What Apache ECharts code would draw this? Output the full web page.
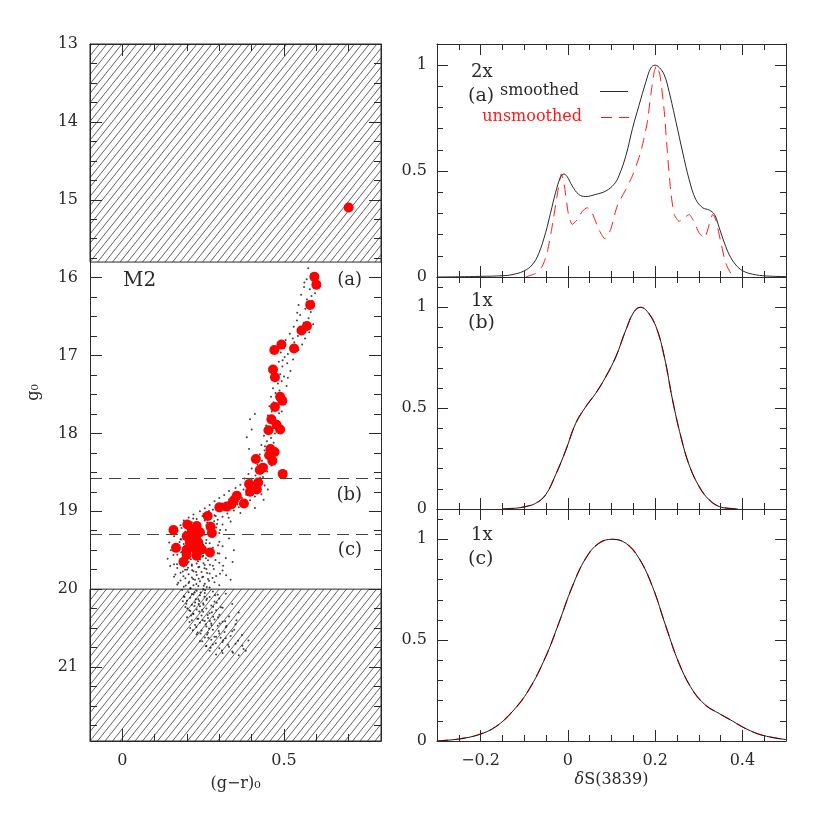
<!DOCTYPE html>
<html><head><meta charset="utf-8">
<script src="https://cdn.jsdelivr.net/npm/echarts@6/dist/echarts.min.js"></script>
<style>html,body{margin:0;padding:0;background:#fff}#c{width:830px;height:830px}</style>
</head><body><div id="c"></div>
<script>
// ---------------- DATA ----------------
// Left panel: colour-magnitude diagram of M2
const hatchBands = [[13, 15.8], [20, 22]];           // excluded magnitude ranges (g0)
const bandLimits = [18.58, 19.29];                   // dashed boundaries between (a),(b),(c)
const redStars = [
  [0.70,15.10],[0.594,15.99],[0.600,16.09],[0.581,16.35],[0.571,16.62],[0.554,16.68],[0.492,16.86],
  [0.531,16.91],[0.470,16.93],[0.466,17.18],[0.472,17.28],[0.488,17.53],[0.495,17.58],[0.472,17.66],
  [0.461,17.82],[0.477,17.89],[0.488,17.95],[0.452,17.96],[0.458,18.20],[0.471,18.24],[0.454,18.28],
  [0.464,18.35],[0.413,18.33],[0.435,18.44],[0.425,18.47],[0.496,18.52],[0.392,18.65],[0.420,18.63],
  [0.416,18.72],[0.395,18.75],[0.354,18.80],[0.345,18.86],[0.376,18.90],[0.338,18.91],[0.323,18.94],
  [0.300,18.95],[0.264,19.06],[0.201,19.17],[0.230,19.19],[0.273,19.20],[0.158,19.24],[0.215,19.24],
  [0.240,19.27],[0.277,19.28],[0.199,19.32],[0.225,19.31],[0.209,19.40],[0.235,19.40],[0.166,19.47],
  [0.199,19.49],[0.225,19.48],[0.246,19.49],[0.271,19.53],[0.199,19.56],[0.230,19.57],[0.189,19.65]
];
const rgbDots = [
  [0.575,15.88],[0.585,15.95],[0.57,16.02],[0.592,16.05],[0.562,16.12],[0.58,16.15],[0.596,16.2],[0.553,16.22],
  [0.571,16.28],[0.588,16.3],[0.545,16.35],[0.566,16.4],[0.583,16.44],[0.55,16.48],[0.576,16.52],[0.54,16.55],
  [0.561,16.58],[0.59,16.6],[0.53,16.63],[0.552,16.66],[0.578,16.7],[0.518,16.72],[0.543,16.75],[0.565,16.78],
  [0.505,16.8],[0.532,16.83],[0.556,16.86],[0.498,16.88],[0.52,16.9],[0.545,16.93],[0.49,16.96],[0.512,16.98],
  [0.502,17.02],[0.528,17.05],[0.484,17.08],[0.51,17.1],[0.495,17.14],[0.476,17.17],[0.52,17.2],[0.488,17.24],
  [0.5,17.27],[0.47,17.3],[0.493,17.33],[0.481,17.36],[0.508,17.39],[0.466,17.42],[0.486,17.45],[0.474,17.48],
  [0.497,17.5],[0.46,17.53],[0.482,17.56],[0.468,17.6],[0.49,17.62],[0.455,17.65],[0.476,17.68],[0.462,17.72],
  [0.485,17.74],[0.45,17.77],[0.47,17.8],[0.41,17.75],[0.395,17.82],[0.458,17.84],[0.478,17.87],[0.445,17.9],
  [0.466,17.93],[0.4,17.95],[0.452,17.97],[0.472,18.0],[0.438,18.03],[0.46,18.06],[0.385,18.05],[0.447,18.1],
  [0.468,18.12],[0.43,18.15],[0.452,18.18],[0.392,18.2],[0.44,18.22],[0.462,18.25],[0.425,18.27],[0.445,18.3],
  [0.41,18.32],[0.432,18.35],[0.455,18.37],[0.418,18.4],[0.44,18.42],[0.4,18.45],[0.425,18.47],[0.448,18.49],
  [0.39,18.52],[0.412,18.54],[0.435,18.56],[0.378,18.58],[0.4,18.6],
  [0.563,16.061],[0.585,16.237],[0.541,16.452],[0.569,16.612],[0.527,16.782],[0.496,17.061],[0.512,17.284],
  [0.479,17.512],[0.493,17.718],[0.456,17.931],[0.441,18.164],[0.461,18.413],[0.426,18.571]
];
const sgbDots = [
  [0.42,18.62],[0.385,18.64],[0.365,18.66],[0.44,18.67],[0.35,18.7],[0.405,18.7],[0.375,18.72],[0.33,18.74],
  [0.425,18.74],[0.36,18.76],[0.39,18.78],[0.315,18.79],[0.345,18.8],[0.41,18.81],[0.3,18.83],[0.37,18.83],
  [0.33,18.85],[0.395,18.86],[0.285,18.87],[0.355,18.88],[0.31,18.9],[0.38,18.9],[0.27,18.92],[0.34,18.92],
  [0.295,18.94],[0.36,18.95],[0.255,18.96],[0.32,18.97],[0.28,18.98],[0.345,18.99],[0.43,18.78],[0.45,18.72],
  [0.24,19.0],[0.3,19.0],[0.265,19.02],[0.325,19.03],[0.22,19.04],[0.285,19.05],[0.248,19.06],[0.31,19.07],
  [0.205,19.08],[0.27,19.08],[0.23,19.1],[0.295,19.11],[0.19,19.12],[0.255,19.12],[0.335,19.13],[0.215,19.14],
  [0.275,19.15],[0.24,19.16],[0.31,19.17],[0.18,19.18],[0.26,19.18],[0.22,19.2],[0.29,19.21],[0.2,19.22],
  [0.245,19.23],[0.32,19.24],[0.17,19.25],[0.268,19.25],[0.23,19.27],[0.3,19.28],[0.19,19.29],[0.255,19.3],
  [0.262,19.143],[0.231,19.226],[0.289,19.062],[0.207,19.171],[0.318,18.982],[0.246,19.285],[0.273,19.198],
  [0.195,19.263],[0.336,18.961],[0.284,19.127],[0.219,19.093],[0.302,19.241],[0.251,19.036],[0.183,19.214],
  [0.356,18.913],[0.268,18.997],[0.226,19.281],[0.293,19.164],[0.371,18.871],[0.329,19.082],[0.398,18.692],
  [0.437,18.853],[0.41,18.958],[0.365,19.021],[0.383,18.787]
];
const toDots = [
  [0.16,19.32],[0.215,19.32],[0.28,19.33],[0.24,19.34],[0.33,19.35],[0.18,19.36],[0.26,19.37],[0.2,19.38],
  [0.3,19.39],[0.145,19.4],[0.23,19.4],[0.27,19.41],[0.19,19.42],[0.25,19.43],[0.215,19.44],[0.31,19.45],
  [0.165,19.46],[0.24,19.46],[0.28,19.47],[0.2,19.48],[0.225,19.49],[0.345,19.5],[0.15,19.5],[0.26,19.51],
  [0.185,19.52],[0.235,19.53],[0.295,19.54],[0.21,19.55],[0.17,19.56],[0.25,19.57],[0.275,19.58],[0.195,19.59],
  [0.22,19.6],[0.32,19.6],[0.14,19.61],[0.24,19.62],[0.265,19.63],[0.18,19.64],[0.205,19.65],[0.3,19.66],
  [0.23,19.67],[0.16,19.68],[0.255,19.69],[0.215,19.7],[0.28,19.7],[0.19,19.71],[0.235,19.72],[0.17,19.73],
  [0.26,19.74],[0.2,19.75],[0.31,19.76],[0.22,19.77],[0.245,19.78],[0.18,19.79],[0.27,19.8],[0.205,19.81],
  [0.23,19.82],[0.29,19.83],[0.16,19.84],[0.25,19.84],[0.215,19.85],[0.195,19.86],[0.265,19.87],[0.335,19.88],
  [0.225,19.88],[0.18,19.89],[0.24,19.9],[0.285,19.91],[0.205,19.92],[0.255,19.93],[0.17,19.94],[0.22,19.95],
  [0.3,19.95],[0.235,19.96],[0.19,19.97],[0.27,19.98],[0.21,19.99],[0.25,20.0],
  [0.212,19.615],[0.187,19.772],[0.243,19.548],[0.268,19.893],[0.176,19.455],[0.229,19.934],[0.251,19.667],
  [0.198,19.338],[0.283,19.742],[0.221,19.489],[0.164,19.812],[0.238,19.712],[0.207,19.904],[0.259,19.412],
  [0.192,19.637],[0.274,19.563],[0.216,19.758],[0.182,19.529],[0.247,19.846],[0.302,19.803],[0.233,19.381],
  [0.169,19.681],[0.261,19.973],[0.209,19.451],[0.288,19.627],[0.226,19.583],[0.196,19.952],[0.254,19.731],
  [0.177,19.396],[0.312,19.701],[0.241,19.476],[0.219,19.869],[0.186,19.598],[0.266,19.512],[0.203,19.724],
  [0.234,19.641],[0.158,19.563],[0.279,19.857],[0.247,19.302],[0.211,19.988],[0.296,19.436],[0.189,19.836],
  [0.258,19.604],[0.228,19.781],[0.173,19.917],[0.238,19.425],[0.321,19.823],[0.205,19.522],[0.271,19.687],
  [0.194,19.751],[0.252,19.958],[0.183,19.362],[0.218,19.413],[0.262,19.792],[0.3,19.541],[0.236,19.867],
  [0.148,19.702],[0.341,19.653],[0.215,19.683],[0.248,19.584]
];
const msDots = [
  [0.185,20.01],[0.23,20.02],[0.28,20.03],[0.205,20.04],[0.255,20.05],[0.32,20.06],[0.22,20.07],[0.24,20.08],
  [0.19,20.09],[0.27,20.1],[0.21,20.11],[0.3,20.12],[0.235,20.13],[0.26,20.14],[0.2,20.15],[0.285,20.16],
  [0.225,20.17],[0.25,20.18],[0.34,20.19],[0.215,20.2],[0.275,20.21],[0.24,20.22],[0.195,20.23],[0.31,20.24],
  [0.26,20.25],[0.23,20.26],[0.29,20.27],[0.21,20.28],[0.25,20.29],[0.36,20.3],[0.27,20.31],[0.22,20.32],
  [0.3,20.33],[0.245,20.34],[0.33,20.35],[0.2,20.36],[0.265,20.37],[0.235,20.38],[0.285,20.39],[0.215,20.4],
  [0.255,20.41],[0.31,20.42],[0.24,20.43],[0.275,20.44],[0.35,20.45],[0.225,20.46],[0.295,20.47],[0.26,20.48],
  [0.32,20.49],[0.21,20.5],[0.28,20.52],[0.245,20.53],[0.34,20.54],[0.265,20.56],[0.3,20.57],[0.23,20.58],
  [0.37,20.59],[0.29,20.61],[0.255,20.62],[0.32,20.63],[0.275,20.65],[0.39,20.66],[0.24,20.67],[0.31,20.68],
  [0.35,20.7],[0.28,20.71],[0.26,20.73],[0.33,20.74],[0.3,20.76],[0.375,20.77],[0.27,20.79],[0.34,20.8],
  [0.31,20.82],[0.29,20.84],[0.36,20.85],
  [0.224,20.043],[0.262,20.121],[0.198,20.187],[0.247,20.264],[0.287,20.078],[0.213,20.338],[0.271,20.409],
  [0.238,20.152],[0.305,20.231],[0.229,20.486],[0.256,20.013],[0.192,20.102],[0.281,20.353],[0.242,20.571],
  [0.318,20.412],[0.266,20.625],[0.207,20.271],[0.298,20.538],[0.251,20.199],[0.335,20.601],[0.232,20.381],
  [0.277,20.297],[0.215,20.061],[0.346,20.522],[0.289,20.694],[0.258,20.452],[0.223,20.218],[0.312,20.655],
  [0.264,20.332],[0.242,20.043],[0.301,20.441],[0.187,20.154],[0.273,20.752],[0.327,20.713],[0.249,20.398],
  [0.219,20.317],[0.292,20.174],[0.358,20.664],[0.233,20.556],[0.308,20.788],[0.268,20.504],[0.201,20.247],
  [0.285,20.612],[0.238,20.286],[0.322,20.472],[0.254,20.097],[0.371,20.728],[0.296,20.362],[0.227,20.129],
  [0.342,20.816],[0.262,20.583],[0.281,20.227],[0.316,20.549],[0.208,20.423],[0.247,20.668],[0.295,20.071],
  [0.353,20.398],[0.276,20.463],[0.236,20.192],[0.304,20.623],[0.382,20.792],[0.259,20.734],[0.218,20.529]
];
// Right panels: normalised distributions of deltaS(3839)
const smoothedA = [[-0.3,0],[-0.25,0.001],[-0.2,0.003],[-0.15,0.006],[-0.128,0.011],[-0.101,0.028],[-0.082,0.057],
  [-0.067,0.11],[-0.051,0.21],[-0.04,0.30],[-0.028,0.40],[-0.017,0.47],[-0.009,0.486],[-0.002,0.475],[0.01,0.43],
  [0.025,0.39],[0.041,0.38],[0.064,0.39],[0.087,0.406],[0.106,0.438],[0.117,0.478],[0.133,0.573],[0.148,0.70],
  [0.163,0.81],[0.179,0.922],[0.19,0.986],[0.2,1.0],[0.209,0.99],[0.221,0.954],[0.232,0.875],[0.248,0.73],
  [0.263,0.59],[0.278,0.46],[0.293,0.367],[0.309,0.327],[0.324,0.316],[0.336,0.295],[0.347,0.232],[0.359,0.16],
  [0.37,0.105],[0.385,0.057],[0.401,0.029],[0.424,0.013],[0.454,0.005],[0.5,0.002]];
const unsmoothedA = [[-0.097,0],[-0.074,0.017],[-0.059,0.05],[-0.048,0.11],[-0.036,0.24],[-0.025,0.38],
  [-0.015,0.486],[-0.009,0.446],[0.001,0.30],[0.010,0.248],[0.021,0.27],[0.033,0.31],[0.044,0.327],[0.056,0.30],
  [0.071,0.224],[0.085,0.18],[0.098,0.224],[0.113,0.335],[0.133,0.414],[0.148,0.478],[0.167,0.59],[0.182,0.73],
  [0.19,0.86],[0.198,0.97],[0.203,0.998],[0.211,0.954],[0.221,0.78],[0.228,0.59],[0.236,0.40],[0.244,0.295],
  [0.255,0.263],[0.267,0.28],[0.278,0.295],[0.29,0.256],[0.301,0.208],[0.313,0.184],[0.324,0.248],[0.332,0.295],
  [0.339,0.27],[0.351,0.16],[0.362,0.065],[0.374,0.017],[0.389,0]];
const curveB = [[-0.15,0],[-0.12,0.004],[-0.097,0.012],[-0.074,0.028],[-0.051,0.07],[-0.028,0.17],[-0.005,0.29],
  [0.018,0.425],[0.041,0.507],[0.064,0.574],[0.087,0.656],[0.11,0.755],[0.133,0.888],[0.152,0.979],[0.167,1.0],
  [0.182,0.979],[0.202,0.904],[0.221,0.755],[0.24,0.54],[0.259,0.359],[0.278,0.218],[0.301,0.111],[0.324,0.045],
  [0.347,0.012],[0.37,0.003],[0.39,0]];
const curveC = [[-0.3,0],[-0.25,0.01],[-0.205,0.031],[-0.166,0.07],[-0.128,0.144],[-0.09,0.252],[-0.051,0.417],
  [-0.021,0.583],[0.01,0.765],[0.041,0.906],[0.071,0.98],[0.102,1.0],[0.133,0.98],[0.163,0.906],[0.194,0.765],
  [0.225,0.566],[0.255,0.384],[0.286,0.252],[0.316,0.177],[0.347,0.136],[0.378,0.098],[0.408,0.061],
  [0.447,0.028],[0.5,0.007]];
// Tick values
const leftXLabels = [0, 0.5];
const leftYLabels = [13, 14, 15, 16, 17, 18, 19, 20, 21];
const rightXLabels = [-0.2, 0, 0.2, 0.4];
const rightYLabels = [0, 0.5, 1];

// ---------------- STYLE / LAYOUT ----------------
const FONT = "'DejaVu Serif', serif";
const INK = '#2a2a2a';
const RED = '#ff1a1a';
function range(a, b, s) { const r = []; for (let v = a; v <= b + 1e-9; v += s) r.push(Math.round(v * 1e6) / 1e6); return r; }
function fmtNum(v) { return v < 0 ? '\u2212' + String(Math.abs(v)) : String(v); }

const grids = [
  {left: 90, top: 44, width: 291, height: 697},
  {left: 437, top: 44, width: 349, height: 233},
  {left: 437, top: 277, width: 349, height: 232},
  {left: 437, top: 509, width: 349, height: 232}
];
const xAxes = [], yAxes = [];
function axis(dim, o) {
  return {
    type: 'value', gridIndex: o.grid, position: o.pos, min: o.min, max: o.max, inverse: !!o.inverse,
    axisLine: {show: !!o.line, onZero: false, lineStyle: {color: INK, width: 1}},
    axisTick: {show: true, inside: true, length: o.len, customValues: o.ticks, lineStyle: {color: INK, width: 1}},
    axisLabel: {show: !!o.labels, customValues: o.labels || [], formatter: fmtNum, margin: o.margin || 10,
      color: INK, fontSize: 16, fontFamily: FONT},
    splitLine: {show: false}, minorTick: {show: false}, splitArea: {show: false},
    name: o.name || '', nameLocation: 'middle', nameGap: o.nameGap || 0, nameRotate: o.nameRotate,
    nameTextStyle: Object.assign({color: INK, fontSize: 16, fontFamily: FONT}, o.nameStyle || {}),
    z: 10
  };
}
function addGrid(g, xr, yr) {
  xAxes.push(axis('x', Object.assign({grid: g, pos: 'bottom', line: true, ticks: xr.minor, len: xr.minLen}, xr.bottom)));
  xAxes.push(axis('x', {grid: g, pos: 'bottom', min: xr.min, max: xr.max, ticks: xr.major, len: xr.majLen}));
  xAxes.push(axis('x', {grid: g, pos: 'top', min: xr.min, max: xr.max, line: true, ticks: xr.minor, len: xr.minLen}));
  xAxes.push(axis('x', {grid: g, pos: 'top', min: xr.min, max: xr.max, ticks: xr.major, len: xr.majLen}));
  yAxes.push(axis('y', Object.assign({grid: g, pos: 'left', line: true, ticks: yr.minor, len: yr.minLen, inverse: yr.inverse}, yr.left)));
  yAxes.push(axis('y', {grid: g, pos: 'left', min: yr.min, max: yr.max, inverse: yr.inverse, ticks: yr.major, len: yr.majLen}));
  yAxes.push(axis('y', {grid: g, pos: 'right', min: yr.min, max: yr.max, inverse: yr.inverse, line: true, ticks: yr.minor, len: yr.minLen}));
  yAxes.push(axis('y', {grid: g, pos: 'right', min: yr.min, max: yr.max, inverse: yr.inverse, ticks: yr.major, len: yr.majLen}));
}
addGrid(0,
  {min: -0.1, max: 0.8, minor: range(0, 0.7, 0.1), major: leftXLabels, minLen: 7, majLen: 12,
   bottom: {min: -0.1, max: 0.8, labels: leftXLabels, margin: 12, name: '(g\u2212r)\u2080', nameGap: 35}},
  {min: 13, max: 21.95, inverse: true, minor: range(13.25, 21.75, 0.25), major: range(14, 21, 1), minLen: 7, majLen: 12,
   left: {min: 13, max: 21.95, labels: leftYLabels, margin: 12, name: 'g\u2080', nameGap: 48, nameRotate: 90}});
const rx = {min: -0.3, max: 0.5, minor: range(-0.25, 0.45, 0.05), major: rightXLabels, minLen: 6, majLen: 11};
addGrid(1, Object.assign({}, rx, {bottom: {min: -0.3, max: 0.5}}),
  {min: 0, max: 1.1, minor: range(0.1, 1.0, 0.1), major: [0.5, 1], minLen: 6, majLen: 11,
   left: {min: 0, max: 1.1, labels: rightYLabels, margin: 10}});
addGrid(2, Object.assign({}, rx, {bottom: {min: -0.3, max: 0.5}}),
  {min: 0, max: 1.15, minor: range(0.1, 1.1, 0.1), major: [0.5, 1], minLen: 6, majLen: 11,
   left: {min: 0, max: 1.15, labels: rightYLabels, margin: 10}});
addGrid(3, Object.assign({}, rx, {bottom: {min: -0.3, max: 0.5, labels: rightXLabels, margin: 12,
   name: '{i|\u03b4}S(3839)', nameGap: 31,
   nameStyle: {rich: {i: {fontStyle: 'italic', fontSize: 16, fontFamily: FONT, color: INK}}}}}),
  {min: 0, max: 1.15, minor: range(0.1, 1.1, 0.1), major: [0.5, 1], minLen: 6, majLen: 11,
   left: {min: 0, max: 1.15, labels: rightYLabels, margin: 10}});

function hatchItem(params, api) {
  const cs = params.coordSys;
  const ya = api.coord([0, api.value(0)])[1], yb = api.coord([0, api.value(1)])[1];
  const top = Math.max(Math.min(ya, yb), cs.y), bottom = Math.min(Math.max(ya, yb), cs.y + cs.height);
  const left = cs.x, right = cs.x + cs.width, H = bottom - top, k = 1.25, s = 7.5;
  const kids = [];
  let start = left - H / k; start = start - (((start - left) % s) + s) % s;
  for (let xb = start; xb < right; xb += s) {
    const xa = Math.max(left, xb), xe = Math.min(right, xb + H / k);
    if (xe <= xa) continue;
    kids.push({type: 'line', shape: {x1: xa, y1: bottom - k * (xa - xb), x2: xe, y2: bottom - k * (xe - xb)},
      style: {stroke: '#3a3a3a', lineWidth: 0.8}});
  }
  kids.push({type: 'rect', shape: {x: left, y: top, width: right - left, height: H}, style: {fill: null, stroke: INK, lineWidth: 1}});
  return {type: 'group', children: kids};
}

const dotStyle = {type: 'scatter', xAxisIndex: 0, yAxisIndex: 0, symbol: 'circle', symbolSize: 2,
  itemStyle: {color: '#111', opacity: 0.8}, silent: true, z: 3, animation: false};
const lineBase = {type: 'line', showSymbol: false, symbol: 'none', silent: true, animation: false};

const series = [
  {type: 'custom', xAxisIndex: 0, yAxisIndex: 0, data: hatchBands, renderItem: hatchItem, z: 2, silent: true, animation: false},
  Object.assign({}, dotStyle, {data: rgbDots}),
  Object.assign({}, dotStyle, {data: sgbDots,
    markLine: {silent: true, symbol: 'none', label: {show: false}, animation: false,
      lineStyle: {type: [12, 7], color: '#444', width: 1},
      data: bandLimits.map(v => ({yAxis: v}))}}),
  Object.assign({}, dotStyle, {data: toDots}),
  Object.assign({}, dotStyle, {data: msDots}),
  {type: 'scatter', xAxisIndex: 0, yAxisIndex: 0, data: redStars, symbolSize: 10, symbol: 'circle',
    itemStyle: {color: '#ff0000', opacity: 1}, z: 6, silent: true, animation: false},
  Object.assign({}, lineBase, {xAxisIndex: 4, yAxisIndex: 4, data: unsmoothedA, smooth: 0.2,
    lineStyle: {color: RED, width: 1, type: [11, 7]}, z: 4}),
  Object.assign({}, lineBase, {xAxisIndex: 4, yAxisIndex: 4, data: smoothedA, smooth: 0.4,
    lineStyle: {color: INK, width: 1}, z: 5}),
  Object.assign({}, lineBase, {xAxisIndex: 8, yAxisIndex: 8, data: curveB, smooth: 0.4,
    lineStyle: {color: RED, width: 1.2, type: [11, 7]}, z: 4}),
  Object.assign({}, lineBase, {xAxisIndex: 8, yAxisIndex: 8, data: curveB, smooth: 0.4,
    lineStyle: {color: '#2a1010', width: 1}, z: 5}),
  Object.assign({}, lineBase, {xAxisIndex: 12, yAxisIndex: 12, data: curveC, smooth: 0.4,
    lineStyle: {color: RED, width: 1.2, type: [11, 7]}, z: 4}),
  Object.assign({}, lineBase, {xAxisIndex: 12, yAxisIndex: 12, data: curveC, smooth: 0.4,
    lineStyle: {color: '#2a1010', width: 1}, z: 5})
];

function txt(x, y, text, size, color, align) {
  return {type: 'text', x: x, y: y, z: 100, silent: true,
    style: {text: text, fontSize: size, fontFamily: FONT, fill: color || INK, align: align || 'left', verticalAlign: 'middle'}};
}
const graphic = [
  txt(123, 281, 'M2', 20),
  txt(362, 280, '(a)', 18, INK, 'right'),
  txt(362, 495, '(b)', 18, INK, 'right'),
  txt(362, 550, '(c)', 18, INK, 'right'),
  txt(471, 72, '2x', 18),
  txt(468, 96, '(a)', 19),
  txt(500, 91, 'smoothed', 16),
  txt(582, 117, 'unsmoothed', 16, RED, 'right'),
  {type: 'line', z: 100, silent: true, shape: {x1: 600, y1: 91.5, x2: 628, y2: 91.5}, style: {stroke: INK, lineWidth: 1}},
  {type: 'line', z: 100, silent: true, shape: {x1: 601, y1: 117.5, x2: 629, y2: 117.5}, style: {stroke: RED, lineWidth: 1, lineDash: [11, 7]}},
  txt(471, 301, '1x', 18),
  txt(468, 323, '(b)', 19),
  txt(471, 535, '1x', 18),
  txt(468, 559, '(c)', 19)
];

const chart = echarts.init(document.getElementById('c'), null, {renderer: 'canvas'});
chart.setOption({
  backgroundColor: '#ffffff',
  animation: false,
  grid: grids.map(g => Object.assign({containLabel: false, outerBoundsMode: 'none'}, g)),
  xAxis: xAxes,
  yAxis: yAxes,
  series: series,
  graphic: graphic
});
</script></body></html>
